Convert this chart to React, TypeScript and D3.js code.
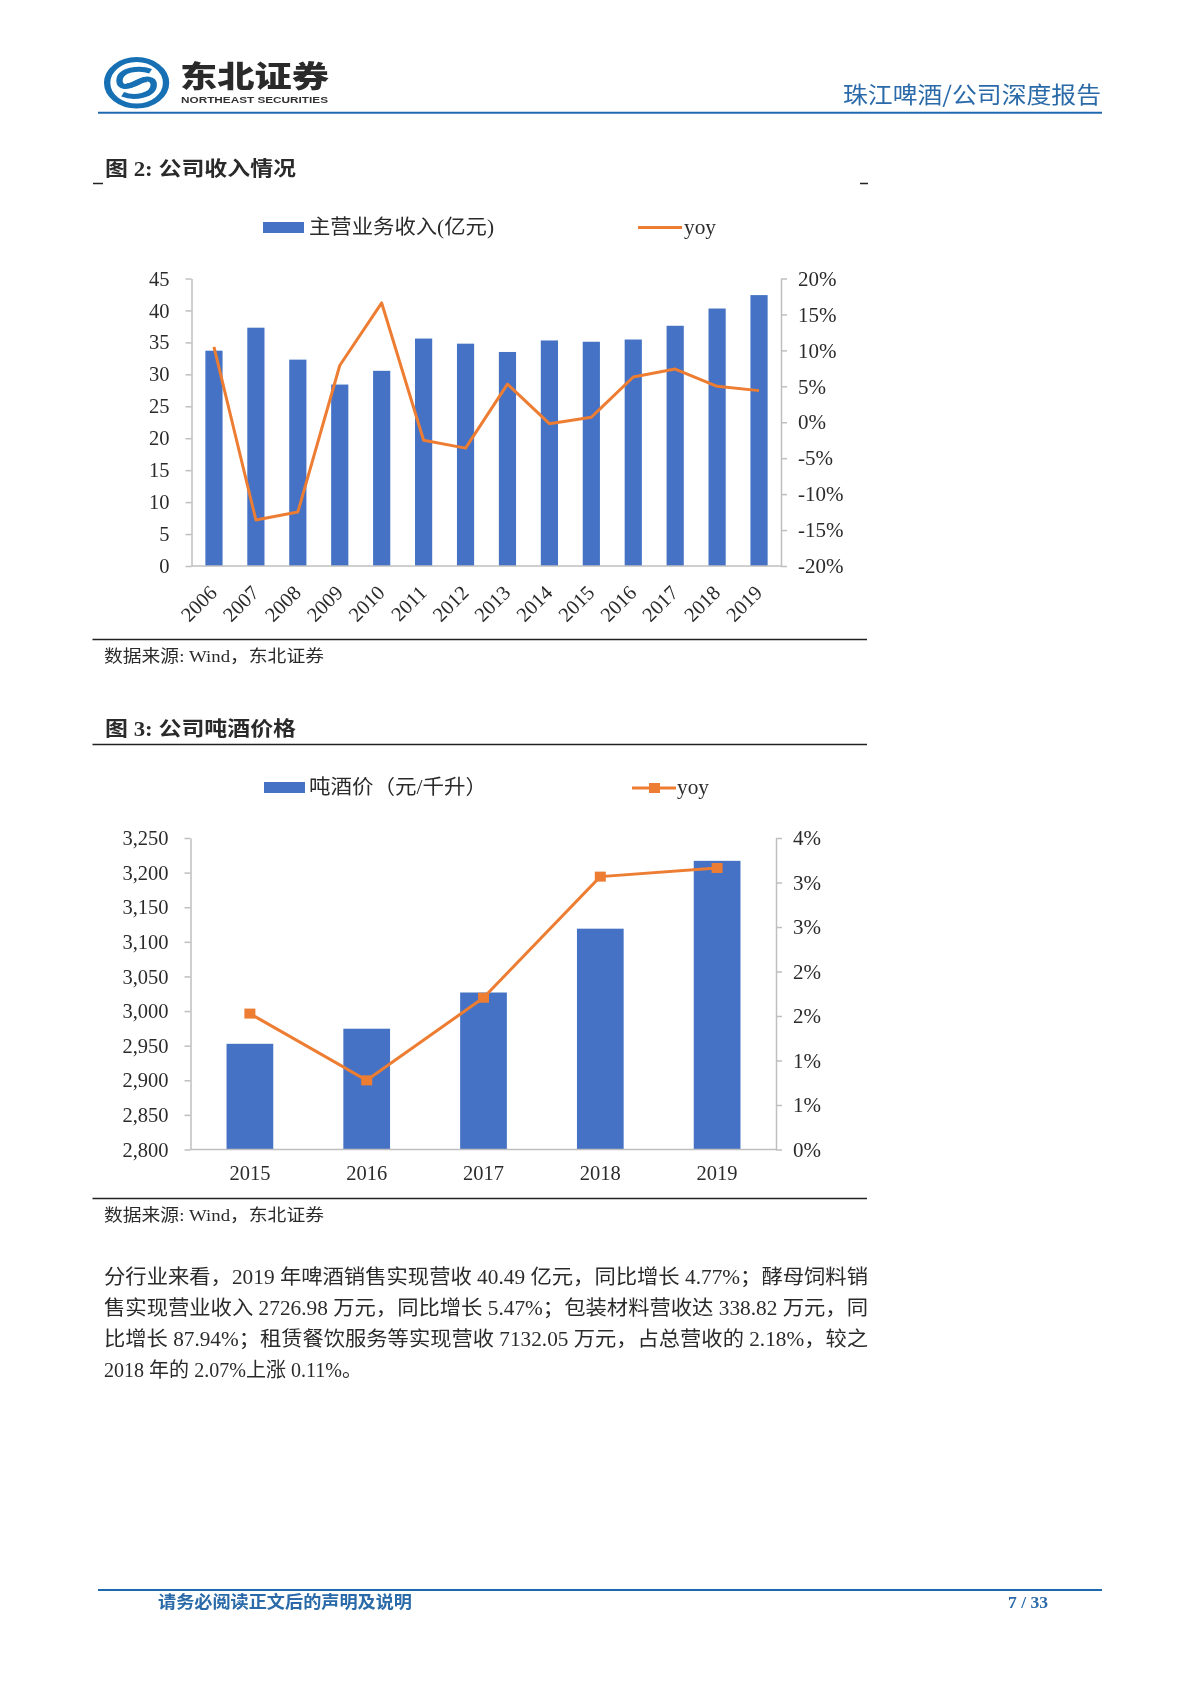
import React, { useRef, useEffect } from 'react';
import * as d3 from 'd3';

const revenueYears = ['2006', '2007', '2008', '2009', '2010', '2011', '2012', '2013', '2014', '2015', '2016', '2017', '2018', '2019'];
const revenueValues = [33.7, 37.3, 32.3, 28.4, 30.55, 35.6, 34.8, 33.5, 35.3, 35.1, 35.45, 37.6, 40.3, 42.4];
const revenueYoy = [10.5, -13.6, -12.5, 7.9, 16.6, -2.5, -3.6, 5.3, -0.2, 0.7, 6.3, 7.4, 5.0, 4.4];
const revenueTicks = [0, 5, 10, 15, 20, 25, 30, 35, 40, 45];
const revenueYoyTicks = [-20, -15, -10, -5, 0, 5, 10, 15, 20];

const priceYears = ['2015', '2016', '2017', '2018', '2019'];
const priceValues = [2952.7, 2974.5, 3026.8, 3119, 3217];
const priceYoy = [1.527, 0.777, 1.705, 3.066, 3.163];
const priceTicks = [2800, 2850, 2900, 2950, 3000, 3050, 3100, 3150, 3200, 3250];
const priceYoyTicks = [0, 0.5, 1, 1.5, 2, 2.5, 3, 3.5];
const priceYoyLabels = ['0%', '1%', '1%', '2%', '2%', '3%', '3%', '4%'];

const paragraph = [
  '分行业来看，2019 年啤酒销售实现营收 40.49 亿元，同比增长 4.77%；酵母饲料销',
  '售实现营业收入 2726.98 万元，同比增长 5.47%；包装材料营收达 338.82 万元，同',
  '比增长 87.94%；租赁餐饮服务等实现营收 7132.05 万元，占总营收的 2.18%，较之',
  '2018 年的 2.07%上涨 0.11%。',
];

const BLUE = '#4472C4';
const ORANGE = '#ED7D31';
const AXIS = '#bfbfbf';
const HEAD = '#2a6aa8';
const INK = '#2b2b2b';
const SERIF = '"Liberation Serif","Noto Sans CJK SC",serif';
const CJK = '"Noto Sans CJK SC",sans-serif';

type Sel = d3.Selection<any, unknown, null, undefined>;

// text squeezed between two x positions, vertically centred on cy
function label(svg: Sel, s: string, x1: number, x2: number, cy: number, size: number, opts: any = {}) {
  svg.append('text')
    .attr('x', x1)
    .attr('y', cy)
    .attr('dy', '0.36em')
    .attr('textLength', x2 - x1)
    .attr('lengthAdjust', 'spacingAndGlyphs')
    .attr('font-family', opts.family || SERIF)
    .attr('font-size', size)
    .attr('font-weight', opts.weight || 'normal')
    .attr('fill', opts.fill || INK)
    .text(s);
}

function rule(svg: Sel, x1: number, x2: number, y: number, color: string, w: number) {
  svg.append('line').attr('x1', x1).attr('x2', x2).attr('y1', y).attr('y2', y)
    .attr('stroke', color).attr('stroke-width', w);
}

function styleAxis(g: Sel, size: number) {
  g.selectAll('path,line').attr('stroke', AXIS).attr('stroke-width', 1.5);
  g.selectAll('text').attr('font-family', SERIF).attr('font-size', size).attr('fill', INK);
}

function drawCombo(svg: Sel, cfg: any) {
  const { left, right, top, bottom, cats, bars, yoy, domain, yoyDomain, ticks, yoyTicks } = cfg;
  const x = d3.scaleBand<string>().domain(cats).range([cfg.bandLeft, cfg.bandRight])
    .paddingInner(cfg.gap).paddingOuter(cfg.gap / 2);
  const y = d3.scaleLinear().domain(domain).range([bottom, top]);
  const y2 = d3.scaleLinear().domain(yoyDomain).range([bottom, top]);
  const mid = (c: string) => x(c)! + x.bandwidth() / 2;

  svg.append('g').selectAll('rect')
    .data(bars as number[])
    .join('rect')
    .attr('x', (_, i) => x(cats[i])!)
    .attr('width', x.bandwidth())
    .attr('y', (d) => y(d))
    .attr('height', (d) => bottom - y(d))
    .attr('fill', BLUE);

  const leftAxis = svg.append('g').attr('transform', `translate(${left},0)`)
    .call(d3.axisLeft(y).tickValues(ticks).tickSize(6).tickSizeOuter(0).tickPadding(16).tickFormat(cfg.leftFormat));
  styleAxis(leftAxis, 20.5);

  const rightAxis = svg.append('g').attr('transform', `translate(${right},0)`)
    .call(d3.axisRight(y2).tickValues(yoyTicks).tickSize(6).tickSizeOuter(0).tickPadding(cfg.rightPad).tickFormat(cfg.rightFormat));
  styleAxis(rightAxis, 21);

  const bottomAxis = svg.append('g').attr('transform', `translate(0,${bottom})`)
    .call(d3.axisBottom(x).tickSize(0).tickSizeOuter(0).tickPadding(cfg.xPad));
  styleAxis(bottomAxis, 20.5);
  // the domain line has to span the two value axes, not only the bands
  bottomAxis.select('.domain').attr('d', `M${left},0H${right}`);
  if (cfg.rotate) {
    bottomAxis.selectAll('text')
      .attr('text-anchor', 'end')
      .attr('y', 0)
      .attr('dy', '0.35em')
      .attr('transform', 'translate(-0.7,23) rotate(-45)');
  }

  const line = d3.line<number>()
    .x((_, i) => mid(cats[i]))
    .y((d) => y2(d));
  svg.append('path')
    .datum(yoy as number[])
    .attr('fill', 'none')
    .attr('stroke', ORANGE)
    .attr('stroke-width', 3)
    .attr('stroke-linejoin', 'round')
    .attr('d', line);

  if (cfg.markers) {
    svg.append('g').selectAll('rect')
      .data(yoy as number[])
      .join('rect')
      .attr('x', (_, i) => mid(cats[i]) - 5.5)
      .attr('y', (d) => y2(d) - 5)
      .attr('width', 11)
      .attr('height', 10)
      .attr('fill', ORANGE);
  }
}

function drawLogo(svg: Sel) {
  const g = svg.append('g').attr('transform', 'translate(136.6,82.8) scale(1.27,1)');
  g.append('circle').attr('r', 23.2).attr('fill', 'none').attr('stroke', '#1670b3').attr('stroke-width', 5);
  const swoosh = 'M11,-11.5 C2,-16 -13.5,-13 -13.5,-2 C-13.5,5 -7,5 -2,1 C1,-1 4,-3 8,-3';
  g.append('path').attr('d', swoosh)
    .attr('fill', 'none').attr('stroke', '#1670b3').attr('stroke-width', 5);
  g.append('path').attr('d', swoosh).attr('transform', 'rotate(180)')
    .attr('fill', 'none').attr('stroke', '#1670b3').attr('stroke-width', 5);
  label(svg, '东北证券', 180, 329, 76.5, 30, { family: CJK, weight: 900, fill: '#2a2a2a' });
  label(svg, 'NORTHEAST SECURITIES', 181, 328, 100, 9, { family: '"Liberation Sans",sans-serif', weight: 'bold', fill: '#333' });
}

const App: React.FC = () => {
  const svgRef = useRef<SVGSVGElement | null>(null);

  useEffect(() => {
    const root = d3.select(svgRef.current!);
    root.selectAll('*').remove();
    root.attr('width', 1200).attr('height', 1698);

    // the page is a soft scan, so everything gets a very slight blur
    root.append('defs').append('filter').attr('id', 'soft')
      .attr('x', 0).attr('y', 0).attr('width', 1).attr('height', 1)
      .attr('filterUnits', 'objectBoundingBox')
      .append('feGaussianBlur').attr('stdDeviation', 0.45);
    root.append('rect').attr('width', 1200).attr('height', 1698).attr('fill', '#fff');
    const svg: Sel = root.append('g').attr('filter', 'url(#soft)');

    drawLogo(svg);
    label(svg, '珠江啤酒/公司深度报告', 843, 1101, 95, 23, { family: CJK, fill: HEAD });
    rule(svg, 98, 1102, 112.7, '#1f69ad', 2);

    // figure 2
    label(svg, '图 2: 公司收入情况', 105, 296, 169, 20, { weight: 'bold' });
    rule(svg, 93, 103, 183.5, '#222', 1.5);
    rule(svg, 860, 868, 183.5, '#222', 1.5);
    svg.append('rect').attr('x', 263).attr('y', 222).attr('width', 41).attr('height', 11).attr('fill', BLUE);
    label(svg, '主营业务收入(亿元)', 309, 494, 227, 20);
    rule(svg, 638, 682, 227.5, ORANGE, 3);
    label(svg, 'yoy', 684, 716, 226, 21);

    drawCombo(svg, {
      left: 191.5, right: 781, top: 278.5, bottom: 566,
      bandLeft: 193, bandRight: 780,
      cats: revenueYears, bars: revenueValues, yoy: revenueYoy,
      domain: [0, 45], yoyDomain: [-20, 20],
      ticks: revenueTicks, yoyTicks: revenueYoyTicks,
      gap: 0.59, rightPad: 11, xPad: 24, rotate: true, markers: false,
      leftFormat: (d: number) => String(d),
      rightFormat: (d: number) => `${d}%`,
    });

    rule(svg, 92.5, 867, 639.5, '#222', 1.5);
    label(svg, '数据来源: Wind，东北证券', 104, 324, 656, 16.5);

    // figure 3
    label(svg, '图 3: 公司吨酒价格', 105, 296, 729, 20, { weight: 'bold' });
    rule(svg, 92.5, 867, 744.5, '#222', 1.5);
    svg.append('rect').attr('x', 264).attr('y', 782).attr('width', 41).attr('height', 11).attr('fill', BLUE);
    label(svg, '吨酒价（元/千升）', 309, 487, 787, 20);
    rule(svg, 632, 676, 788, ORANGE, 3);
    svg.append('rect').attr('x', 649).attr('y', 783).attr('width', 11).attr('height', 10).attr('fill', ORANGE);
    label(svg, 'yoy', 677, 709, 786, 21);

    drawCombo(svg, {
      left: 190.5, right: 776, top: 838, bottom: 1149.5,
      bandLeft: 191.5, bandRight: 775.5,
      cats: priceYears, bars: priceValues, yoy: priceYoy,
      domain: [2800, 3250], yoyDomain: [0, 3.5],
      ticks: priceTicks, yoyTicks: priceYoyTicks,
      gap: 0.6, rightPad: 11, xPad: 16, rotate: false, markers: true,
      leftFormat: d3.format(','),
      rightFormat: (_: number, i: number) => priceYoyLabels[i],
    });

    rule(svg, 92.5, 867, 1198.5, '#222', 1.5);
    label(svg, '数据来源: Wind，东北证券', 104, 324, 1215, 16.5);

    const paraY = d3.scaleLinear().domain([0, 3]).range([1277, 1370]);
    const paraEnd = [868, 868, 868, 362];
    paragraph.forEach((s, i) => label(svg, s, 104, paraEnd[i], paraY(i), 20));

    rule(svg, 98, 1102, 1590, '#1f69ad', 2);
    label(svg, '请务必阅读正文后的声明及说明', 158, 412, 1602, 17.5, { family: CJK, weight: 'bold', fill: HEAD });
    label(svg, '7 / 33', 1008, 1048, 1602, 17.5, { weight: 'bold', fill: HEAD });
  }, []);

  return <svg ref={svgRef} style={{ position: 'absolute', left: 0, top: 0, display: 'block' }}></svg>;
};

export default App;
